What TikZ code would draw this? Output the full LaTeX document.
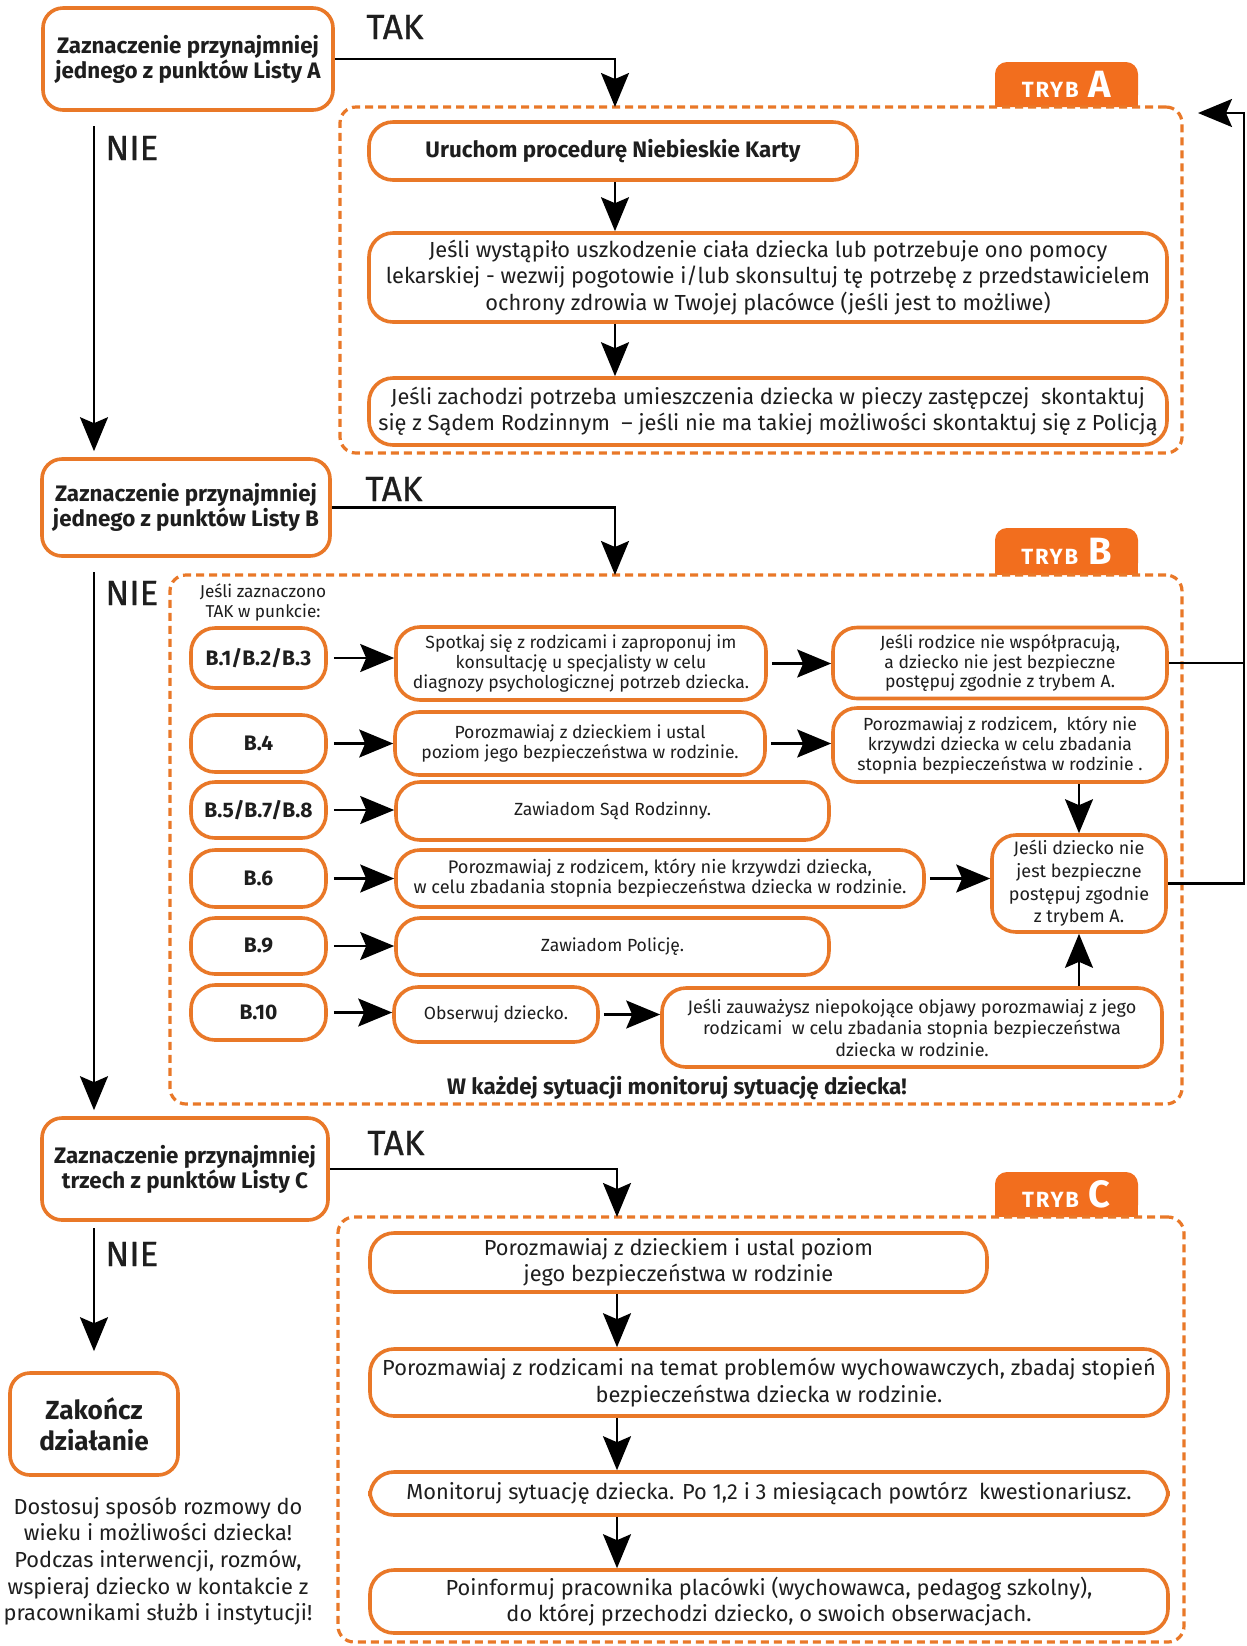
\documentclass[tikz,border=0pt]{standalone}
\usepackage{fontspec}
\setmainfont{Fira Sans}
\newfontfamily\medfont{Fira Sans}[FakeBold=0.7]
\usetikzlibrary{arrows.meta}
\definecolor{orC}{RGB}{233,120,40}
\definecolor{tabC}{RGB}{242,110,30}
\definecolor{txt}{RGB}{30,30,30}
\newcommand{\tabtext}[1]{{\fontsize{11}{11}\selectfont\addfontfeatures{LetterSpace=8}TRYB}\hspace{5pt}{\fontsize{19}{19}\selectfont #1}}
\begin{document}
\begin{tikzpicture}[x=0.5pt,y=-0.5pt,
  box/.style={draw=orC, line width=1.8pt, rounded corners=12pt, align=center, inner sep=1pt, text=txt, fill=white},
  qbox/.style={box, rounded corners=10pt, font=\bfseries\fontsize{11.2}{12.5}\selectfont},
  cont/.style={draw=orC, line width=1.6pt, dash pattern=on 4pt off 2.5pt, rounded corners=8pt},
  tabbox/.style={fill=tabC, rounded corners=6pt, text=white, font=\bfseries, minimum width=71.5pt, inner sep=0pt},
  conn/.style={draw=black, line width=1.1pt},
  arr/.style={conn, -{Stealth[length=17pt,width=14pt,inset=3pt]}},
  lab/.style={font=\medfont\fontsize{17.5}{19}\selectfont, text=txt, anchor=west, inner sep=0pt},
  bl/.style={box, font=\bfseries\fontsize{10.5}{11}\selectfont, minimum width=67.5pt},
  bs/.style={box, font=\fontsize{8.8}{9.8}\selectfont},
  ta/.style={box, font=\fontsize{10.9}{13.2}\selectfont},
]
\useasboundingbox (0,0) rectangle (1247,1646);
\fill[white] (0,0) rectangle (1247,1646);

% ---------- tabs (drawn before containers) ----------
\fill[tabC] (995,84) rectangle (1138,107);
\node[tabbox, minimum height=22.5pt] (tabA) at (1066.5,84.5) {\tabtext{A}};
\fill[tabC] (995,551) rectangle (1138,575);
\node[tabbox, minimum height=23.5pt] (tabB) at (1066.5,551.5) {\tabtext{B}};
\fill[tabC] (995,1194) rectangle (1138,1217);
\node[tabbox, minimum height=22.5pt] (tabC) at (1066.5,1194.5) {\tabtext{C}};

% ---------- containers ----------
\node[cont, minimum width=421pt, minimum height=173pt] (contA) at (761,280) {};
\node[cont, minimum width=506pt, minimum height=264.5pt] (contB) at (676,839.5) {};
\node[cont, minimum width=423pt, minimum height=212.5pt] (contC) at (761,1429.5) {};

% ---------- question boxes ----------
\node[qbox, minimum width=145pt, minimum height=51pt] (qA) at (188,59) {Zaznaczenie przynajmniej\\jednego z punktów Listy A};
\node[qbox, minimum width=144pt, minimum height=48.5pt] (qB) at (186,507.5) {Zaznaczenie przynajmniej\\jednego z punktów Listy B};
\node[qbox, minimum width=143pt, minimum height=51pt] (qC) at (185,1169) {Zaznaczenie przynajmniej\\trzech z punktów Listy C};

\node[lab] (takA) at (366,27) {TAK};
\node[lab] (takB) at (365,489) {TAK};
\node[lab] (takC) at (367,1143) {TAK};
\node[lab] (nieA) at (105,148) {NIE};
\node[lab] (nieB) at (105,593) {NIE};
\node[lab] (nieC) at (105,1254) {NIE};

% ---------- Tryb A ----------
\node[box, font=\bfseries\fontsize{11.2}{12}\selectfont, minimum width=244pt, minimum height=29pt] (A1) at (613,151) {Uruchom procedurę Niebieskie Karty};
\node[ta, minimum width=399pt, minimum height=44.5pt] (A2) at (768,277.5) {Jeśli wystąpiło uszkodzenie ciała dziecka lub potrzebuje ono pomocy\\lekarskiej - wezwij pogotowie i/lub skonsultuj tę potrzebę z przedstawicielem\\ochrony zdrowia w Twojej placówce (jeśli jest to możliwe)};
\node[ta, minimum width=399pt, minimum height=33.5pt] (A3) at (768,411.5) {Jeśli zachodzi potrzeba umieszczenia dziecka w pieczy zastępczej\ \ skontaktuj\\się z Sądem Rodzinnym\ \ – jeśli nie ma takiej możliwości skontaktuj się z Policją};

% ---------- Tryb B ----------
\node[font=\fontsize{8.6}{10}\selectfont, text=txt, align=center, inner sep=0pt] (bhead) at (263,602) {Jeśli zaznaczono\\TAK w punkcie:};
\node[bl, minimum height=30pt] (B1) at (258.5,658) {B.1/B.2/B.3};
\node[bl, minimum height=28.5pt] (B4) at (258.5,743.5) {B.4};
\node[bl, minimum height=28pt] (B5) at (258.5,810) {B.5/B.7/B.8};
\node[bl, minimum height=28.5pt] (B6) at (258.5,878.5) {B.6};
\node[bl, minimum height=28pt] (B9) at (258.5,946) {B.9};
\node[bl, minimum height=27.5pt] (B10) at (258.5,1012.5) {B.10};

\node[bs, minimum width=185pt, minimum height=36.5pt] (M1) at (581,663.5) {Spotkaj się z rodzicami i zaproponuj im\\konsultację u specjalisty w celu\\diagnozy psychologicznej potrzeb dziecka.};
\node[bs, minimum width=185pt, minimum height=31.5pt] (M2) at (580,743.5) {Porozmawiaj z dzieckiem i ustal\\poziom jego bezpieczeństwa w rodzinie.};
\node[bs, minimum width=216.5pt, minimum height=29pt] (M3) at (612.5,811) {Zawiadom Sąd Rodzinny.};
\node[bs, minimum width=264pt, minimum height=28.5pt, font=\fontsize{9.1}{10}\selectfont] (M4) at (660,878.5) {Porozmawiaj z rodzicem, który nie krzywdzi dziecka,\\w celu zbadania stopnia bezpieczeństwa dziecka w rodzinie.};
\node[bs, minimum width=216.5pt, minimum height=28.5pt] (M5) at (612.5,946.5) {Zawiadom Policję.};
\node[bs, minimum width=102pt, minimum height=27.5pt] (M6) at (496,1014.5) {Obserwuj dziecko.};

\node[bs, minimum width=167pt, minimum height=35.5pt] (R1) at (1000,663) {Jeśli rodzice nie współpracują,\\a dziecko nie jest bezpieczne\\postępuj zgodnie z trybem A.};
\node[bs, minimum width=167pt, minimum height=37pt, font=\fontsize{8.8}{10}\selectfont] (R2) at (1000,745) {Porozmawiaj z rodzicem,\ \ który nie\\krzywdzi dziecka w celu zbadania\\stopnia bezpieczeństwa w rodzinie .};
\node[bs, minimum width=87pt, minimum height=48.5pt, font=\fontsize{9}{11.3}\selectfont] (R3) at (1079,883.5) {Jeśli dziecko nie\\jest bezpieczne\\postępuj zgodnie\\z trybem A.};
\node[bs, minimum width=250pt, minimum height=39.5pt, font=\fontsize{9}{10.8}\selectfont] (R4) at (912,1027.5) {Jeśli zauważysz niepokojące objawy porozmawiaj z jego\\rodzicami\ \ w celu zbadania stopnia bezpieczeństwa\\dziecka w rodzinie.};

\node[font=\bfseries\fontsize{11.2}{12}\selectfont, text=txt, inner sep=0pt] (monB) at (677,1088) {W każdej sytuacji monitoruj sytuację dziecka!};

% ---------- Tryb C ----------
\node[ta, minimum width=308.5pt, minimum height=29.5pt] (C1) at (678.5,1262.5) {Porozmawiaj z dzieckiem i ustal poziom\\jego bezpieczeństwa w rodzinie};
\node[ta, minimum width=399pt, minimum height=33.5pt] (C2) at (769,1382.5) {Porozmawiaj z rodzicami na temat problemów wychowawczych, zbadaj stopień\\bezpieczeństwa dziecka w rodzinie.};
\node[ta, minimum width=399pt, minimum height=21.5pt] (C3) at (769,1493.5) {Monitoruj sytuację dziecka. Po 1,2 i 3 miesiącach powtórz\ \ kwestionariusz.};
\node[ta, minimum width=399pt, minimum height=31.5pt] (C4) at (769,1601.5) {Poinformuj pracownika placówki (wychowawca, pedagog szkolny),\\do której przechodzi dziecko, o swoich obserwacjach.};

\node[qbox, font=\bfseries\fontsize{13.1}{15.5}\selectfont, minimum width=84pt, minimum height=51pt] (end) at (94,1424) {Zakończ\\działanie};
\node[font=\fontsize{10.9}{13.3}\selectfont, text=txt, align=center, inner sep=0pt] (note) at (158,1561) {Dostosuj sposób rozmowy do\\wieku i możliwości dziecka!\\Podczas interwencji, rozmów,\\wspieraj dziecko w kontakcie z\\pracownikami służb i instytucji!};

% ---------- coordinates ----------
\coordinate (colA) at (615,107);
\coordinate (colB) at (615,575);
\coordinate (colC) at (617,1217);
\coordinate (nA) at (94,126);
\coordinate (nB) at (94,572);
\coordinate (nC) at (94,1228);
\coordinate (retX) at (1244,113);
\coordinate (retTip) at (1198,113);

% ---------- connectors ----------
\draw[arr] (qA.east) -| (colA);
\draw[arr] (qB.east) -| (colB);
\draw[arr] (qC.east) -| (colC);
\draw[arr, shorten >=3pt] (nA) -- (nA |- qB.north);
\draw[arr, shorten >=3pt] (nB) -- (nB |- qC.north);
\draw[arr, shorten >=10pt] (nC) -- (nC |- end.north);

\draw[arr] (A1.south -| colA) -- (A2.north -| colA);
\draw[arr] (A2.south -| colA) -- (A3.north -| colA);

\foreach \b/\m in {B1/M1,B4/M2,B5/M3,B6/M4,B9/M5,B10/M6}
  \draw[arr, shorten <=3pt] (\b.east) -- (\b.east -| \m.west);
\draw[arr, shorten <=2pt] (M1.east) -- (M1.east -| R1.west);
\draw[arr, shorten <=2pt] (M2.east) -- (M2.east -| R2.west);
\draw[arr, shorten <=2pt] (M4.east) -- (M4.east -| R3.west);
\draw[arr, shorten <=2pt] (M6.east) -- (M6.east -| R4.west);
\draw[arr] (R2.south -| R3.north) -- (R3.north);
\draw[arr] (R4.north -| R3.south) -- (R3.south);

\draw[conn] (R1.east) -- (R1.east -| retX);
\draw[arr] (R3.east) -- (R3.east -| retX) -- (retX) -- (retTip);

\draw[arr] (C1.south -| colC) -- (C2.north -| colC);
\draw[arr] (C2.south -| colC) -- (C3.north -| colC);
\draw[arr] (C3.south -| colC) -- (C4.north -| colC);
\end{tikzpicture}
\end{document}
